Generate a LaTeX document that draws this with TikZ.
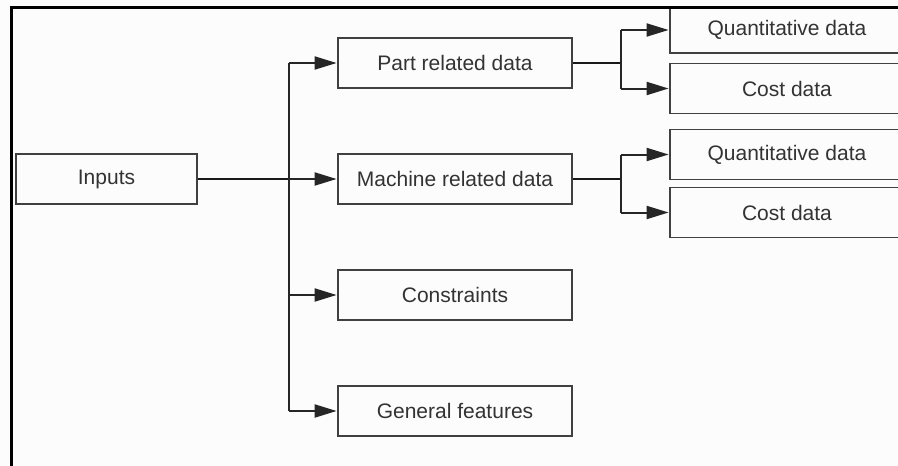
\documentclass[tikz,border=0pt]{standalone}
\usepackage{fontspec}
\setmainfont{Liberation Sans}
\usetikzlibrary{arrows.meta}
\definecolor{paper}{HTML}{FCFCFC}
\tikzset{
  box/.style={draw=black!75, line width=1.8pt, fill=paper, inner sep=0pt,
    minimum width=234pt, minimum height=50pt, text=black!80,
    font=\fontsize{21}{24}\selectfont},
  conn/.style={draw=black!85, line width=2pt},
  arr/.style={conn, -{Triangle[length=22pt,width=13pt]}, shorten >=0.5pt},
}
\begin{document}
\begin{tikzpicture}[x=1pt, y=-1pt]
  \clip (0,0) rectangle (898,466);
  \fill[paper] (0,0) rectangle (898,466);

  % boxes
  \node[box, minimum width=181pt] (inputs) at (106.5,179) {Inputs};
  \node[box] (part)  at (455,63)  {Part related data};
  \node[box] (mach)  at (455,179) {Machine related data};
  \node[box] (cons)  at (455,295) {Constraints};
  \node[box] (gen)   at (455,411) {General features};
  \node[box, minimum height=46pt] (q1) at (787,30) {Quantitative data};
  \node[box] (c1)    at (787,88.5)  {Cost data};
  \node[box] (q2)    at (787,154.5) {Quantitative data};
  \node[box] (c2)    at (787,212.5) {Cost data};

  % trunk from Inputs
  \coordinate (trunk) at (289,0);
  \draw[conn, line width=2.6pt, draw=black!90] (inputs.east) -- (inputs.east -| trunk);
  \draw[conn] (part.west -| trunk) -- (gen.west -| trunk);
  \draw[arr] (part.west -| trunk) -- (part.west);
  \draw[arr] (mach.west -| trunk) -- (mach.west);
  \draw[arr] (cons.west -| trunk) -- (cons.west);
  \draw[arr] (gen.west -| trunk) -- (gen.west);

  % branches to the data boxes
  \coordinate (rb) at (621,0);
  \draw[conn, line width=2.6pt, draw=black!90] (part.east) -- (part.east -| rb);
  \draw[conn] (q1.west -| rb) -- (c1.west -| rb);
  \draw[arr] (q1.west -| rb) -- (q1.west);
  \draw[arr] (c1.west -| rb) -- (c1.west);
  \draw[conn, line width=2.6pt, draw=black!90] (mach.east) -- (mach.east -| rb);
  \draw[conn] (q2.west -| rb) -- (c2.west -| rb);
  \draw[arr] (q2.west -| rb) -- (q2.west);
  \draw[arr] (c2.west -| rb) -- (c2.west);

  % outer frame
  \draw[line width=3pt, line cap=rect] (11,470) -- (11,7) -- (900,7);
\end{tikzpicture}
\end{document}
